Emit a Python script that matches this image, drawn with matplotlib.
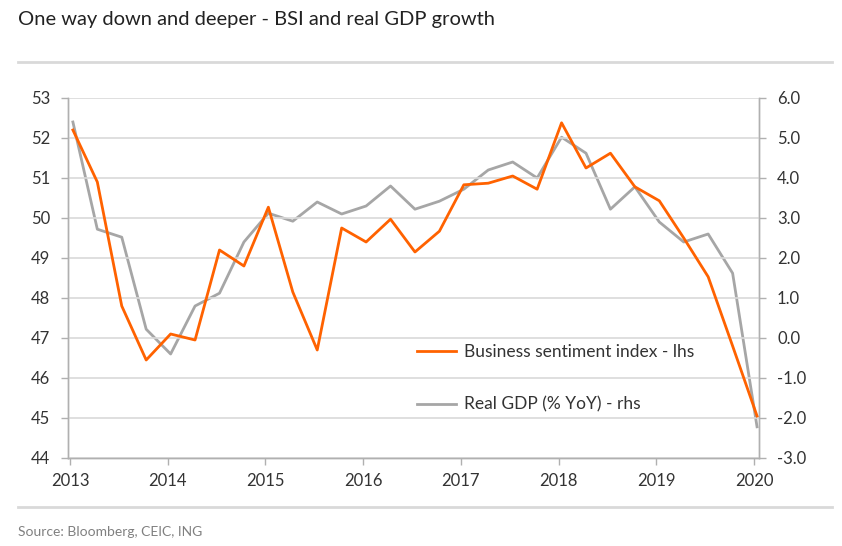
import matplotlib
matplotlib.use("Agg")
from matplotlib import pyplot as plt
from matplotlib.lines import Line2D
import numpy as np

# quarterly, 2013 Q1 .. 2020 Q1
bsi = [52.2, 50.9, 47.8, 46.45, 47.1, 46.95, 49.2, 48.8, 50.27,
       48.15, 46.7, 49.75, 49.4, 49.97, 49.15, 49.67, 50.83, 50.87,
       51.05, 50.72, 52.38, 51.25, 51.62, 50.78, 50.43, 49.5, 48.53,
       46.8, 45.05]
gdp = [5.4, 2.72, 2.52, 0.22, -0.4, 0.8, 1.12, 2.4, 3.12,
       2.92, 3.4, 3.1, 3.3, 3.8, 3.22, 3.42, 3.72, 4.2,
       4.4, 4.0, 5.02, 4.62, 3.22, 3.78, 2.9, 2.4, 2.6,
       1.62, -2.22]
years = [2013, 2014, 2015, 2016, 2017, 2018, 2019, 2020]
x = 2013.03 + 0.25 * np.arange(len(bsi))

plt.rcParams['font.family'] = ['Lato', 'DejaVu Sans']
orange = '#ff6200'
grey = '#a6a6a6'
axis_col = '#b0b0b0'
txt = '#333333'

fig = plt.figure(figsize=(8.42, 5.46), dpi=100)
ax = fig.add_axes([68/842, 1-458/546, (759-68)/842, (458-98)/546])
ax2 = ax.twinx()

ax.plot(x, bsi, color=orange, lw=2.0, zorder=3)
ax2.plot(x, gdp, color=grey, lw=2.0, zorder=2)
ax.set_zorder(ax2.get_zorder() + 1)
ax.patch.set_visible(False)

ax.set_xlim(2012.98, 2020.05)
ax.set_ylim(44, 53)
ax2.set_ylim(-3, 6)
ax.set_yticks(range(44, 54))
ax2.set_yticks(np.arange(-3, 7, 1.0))
ax2.set_yticklabels(['%.1f' % v for v in np.arange(-3, 7, 1.0)])
ax.set_xticks(years)
ax.set_xticklabels([str(y) for y in years])

ax.grid(axis='y', color='#d9d9d9', lw=1.2)
ax.set_axisbelow(True)
for a in (ax, ax2):
    a.spines['top'].set_visible(False)
    for s in ('left', 'right', 'bottom'):
        a.spines[s].set_color(axis_col)
        a.spines[s].set_linewidth(1.0)
    a.tick_params(colors=axis_col, labelcolor=txt, labelsize=12, length=5, width=1)
ax.tick_params(axis='x', pad=6)
ax.tick_params(axis='y', pad=8)
ax2.tick_params(axis='y', pad=8)

handles = [Line2D([], [], color=orange, lw=2.0), Line2D([], [], color=grey, lw=2.0)]
ax.legend(handles, ['Business sentiment index - lhs', 'Real GDP (% YoY) - rhs'],
          loc='upper left', bbox_to_anchor=(0.483, 0.36), frameon=False,
          fontsize=12.5, labelcolor=txt, handlelength=2.2, handletextpad=0.5,
          labelspacing=2.1)

fig.text(18/842, 1-20/546, 'One way down and deeper - BSI and real GDP growth',
         fontsize=14.5, color='#222222', va='center', ha='left')
fig.add_artist(Line2D([18/842, 832/842], [1-62/546, 1-62/546], color='#d9d9d9', lw=2))
fig.add_artist(Line2D([18/842, 832/842], [1-507/546, 1-507/546], color='#d9d9d9', lw=2))
fig.text(18/842, 1-532/546, 'Source: Bloomberg, CEIC, ING', fontsize=10,
         color='#808080', va='center', ha='left')

fig.savefig('out.png', dpi=100)
